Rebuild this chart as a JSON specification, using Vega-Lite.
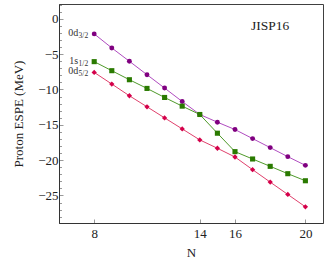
{
  "$schema": "https://vega.github.io/schema/vega-lite/v6.json",
  "width": 264,
  "height": 219,
  "autosize": "none",
  "padding": {"left": 59, "top": 4, "right": 4, "bottom": 40},
  "background": "white",
  "config": {
    "view": {"stroke": "#404040", "strokeWidth": 1},
    "font": "Liberation Serif",
    "axis": {"labelFont": "Liberation Serif", "titleFont": "Liberation Serif", "labelFontSize": 13, "titleFontSize": 13, "titleFontWeight": "normal", "labelColor": "#222", "titleColor": "#222", "domainColor": "#333", "tickColor": "#999", "tickWidth": 1, "grid": false}
  },
  "datasets": {
    "espe": [
      {"N": 8, "E": -2.13, "s": "0d3/2"}, {"N": 9, "E": -4.12, "s": "0d3/2"}, {"N": 10, "E": -6.01, "s": "0d3/2"}, {"N": 11, "E": -7.91, "s": "0d3/2"}, {"N": 12, "E": -9.8, "s": "0d3/2"}, {"N": 13, "E": -11.7, "s": "0d3/2"}, {"N": 14, "E": -13.54, "s": "0d3/2"}, {"N": 15, "E": -14.63, "s": "0d3/2"}, {"N": 16, "E": -15.67, "s": "0d3/2"}, {"N": 17, "E": -16.95, "s": "0d3/2"}, {"N": 18, "E": -18.23, "s": "0d3/2"}, {"N": 19, "E": -19.51, "s": "0d3/2"}, {"N": 20, "E": -20.74, "s": "0d3/2"},
      {"N": 8, "E": -6.06, "s": "1s1/2"}, {"N": 9, "E": -7.34, "s": "1s1/2"}, {"N": 10, "E": -8.62, "s": "1s1/2"}, {"N": 11, "E": -9.85, "s": "1s1/2"}, {"N": 12, "E": -11.13, "s": "1s1/2"}, {"N": 13, "E": -12.36, "s": "1s1/2"}, {"N": 14, "E": -13.54, "s": "1s1/2"}, {"N": 15, "E": -16.19, "s": "1s1/2"}, {"N": 16, "E": -18.8, "s": "1s1/2"}, {"N": 17, "E": -19.84, "s": "1s1/2"}, {"N": 18, "E": -20.88, "s": "1s1/2"}, {"N": 19, "E": -21.92, "s": "1s1/2"}, {"N": 20, "E": -22.92, "s": "1s1/2"},
      {"N": 8, "E": -7.58, "s": "0d5/2"}, {"N": 9, "E": -9.23, "s": "0d5/2"}, {"N": 10, "E": -10.89, "s": "0d5/2"}, {"N": 11, "E": -12.45, "s": "0d5/2"}, {"N": 12, "E": -14.02, "s": "0d5/2"}, {"N": 13, "E": -15.58, "s": "0d5/2"}, {"N": 14, "E": -17.14, "s": "0d5/2"}, {"N": 15, "E": -18.32, "s": "0d5/2"}, {"N": 16, "E": -19.56, "s": "0d5/2"}, {"N": 17, "E": -21.35, "s": "0d5/2"}, {"N": 18, "E": -23.11, "s": "0d5/2"}, {"N": 19, "E": -24.86, "s": "0d5/2"}, {"N": 20, "E": -26.61, "s": "0d5/2"}
    ],
    "labels": [
      {"N": 8, "E": -2.13, "main": "0d", "sub": "3/2"},
      {"N": 8, "E": -6.06, "main": "1s", "sub": "1/2"},
      {"N": 8, "E": -7.58, "main": "0d", "sub": "5/2"}
    ],
    "title": [{"N": 18, "E": -1.0, "t": "JISP16"}]
  },
  "encoding": {
    "x": {"field": "N", "type": "quantitative", "scale": {"domain": [6, 21], "nice": false, "zero": false}, "axis": {"values": [8, 14, 16, 20], "title": "N", "tickSize": -4, "labelPadding": 8, "titlePadding": 6}},
    "y": {"field": "E", "type": "quantitative", "scale": {"domain": [-28.9, 2.1], "nice": false, "zero": false}, "axis": {"values": [-28, -27, -26, -25, -24, -23, -22, -21, -20, -19, -18, -17, -16, -15, -14, -13, -12, -11, -10, -9, -8, -7, -6, -5, -4, -3, -2, -1, 0, 1, 2], "labelExpr": "datum.value % 5 === 0 ? datum.label : ''", "tickSize": {"condition": {"test": "datum.value % 5 === 0", "value": -4}, "value": -2.5}, "labelPadding": 5, "title": "Proton ESPE (MeV)", "titlePadding": 12}}
  },
  "layer": [
    {
      "data": {"name": "espe"},
      "mark": {"type": "line", "strokeWidth": 1},
      "encoding": {
        "detail": {"field": "s"},
        "color": {"field": "s", "type": "nominal", "scale": {"domain": ["0d3/2", "1s1/2", "0d5/2"], "range": ["#b04cc0", "#4f9a2a", "#e0406c"]}, "legend": null}
      }
    },
    {
      "data": {"name": "espe"},
      "mark": {"type": "point", "filled": true, "opacity": 1},
      "encoding": {
        "shape": {"field": "s", "type": "nominal", "scale": {"domain": ["0d3/2", "1s1/2", "0d5/2"], "range": ["circle", "square", "diamond"]}, "legend": null},
        "size": {"field": "s", "type": "nominal", "scale": {"domain": ["0d3/2", "1s1/2", "0d5/2"], "range": [24, 28, 26]}, "legend": null},
        "fill": {"field": "s", "type": "nominal", "scale": {"domain": ["0d3/2", "1s1/2", "0d5/2"], "range": ["#800080", "#2a7a00", "#d4004a"]}, "legend": null}
      }
    },
    {
      "data": {"name": "labels"},
      "mark": {"type": "text", "align": "right", "baseline": "middle", "dx": -16, "dy": -1, "fontSize": 10, "font": "Liberation Serif", "color": "#333"},
      "encoding": {"text": {"field": "main"}}
    },
    {
      "data": {"name": "labels"},
      "mark": {"type": "text", "align": "right", "baseline": "middle", "dx": -6, "dy": 2, "fontSize": 7.5, "font": "Liberation Serif", "color": "#333"},
      "encoding": {"text": {"field": "sub"}}
    },
    {
      "data": {"name": "title"},
      "mark": {"type": "text", "align": "center", "baseline": "middle", "fontSize": 13.5, "font": "Liberation Serif", "color": "#222"},
      "encoding": {"text": {"field": "t"}}
    }
  ]
}
